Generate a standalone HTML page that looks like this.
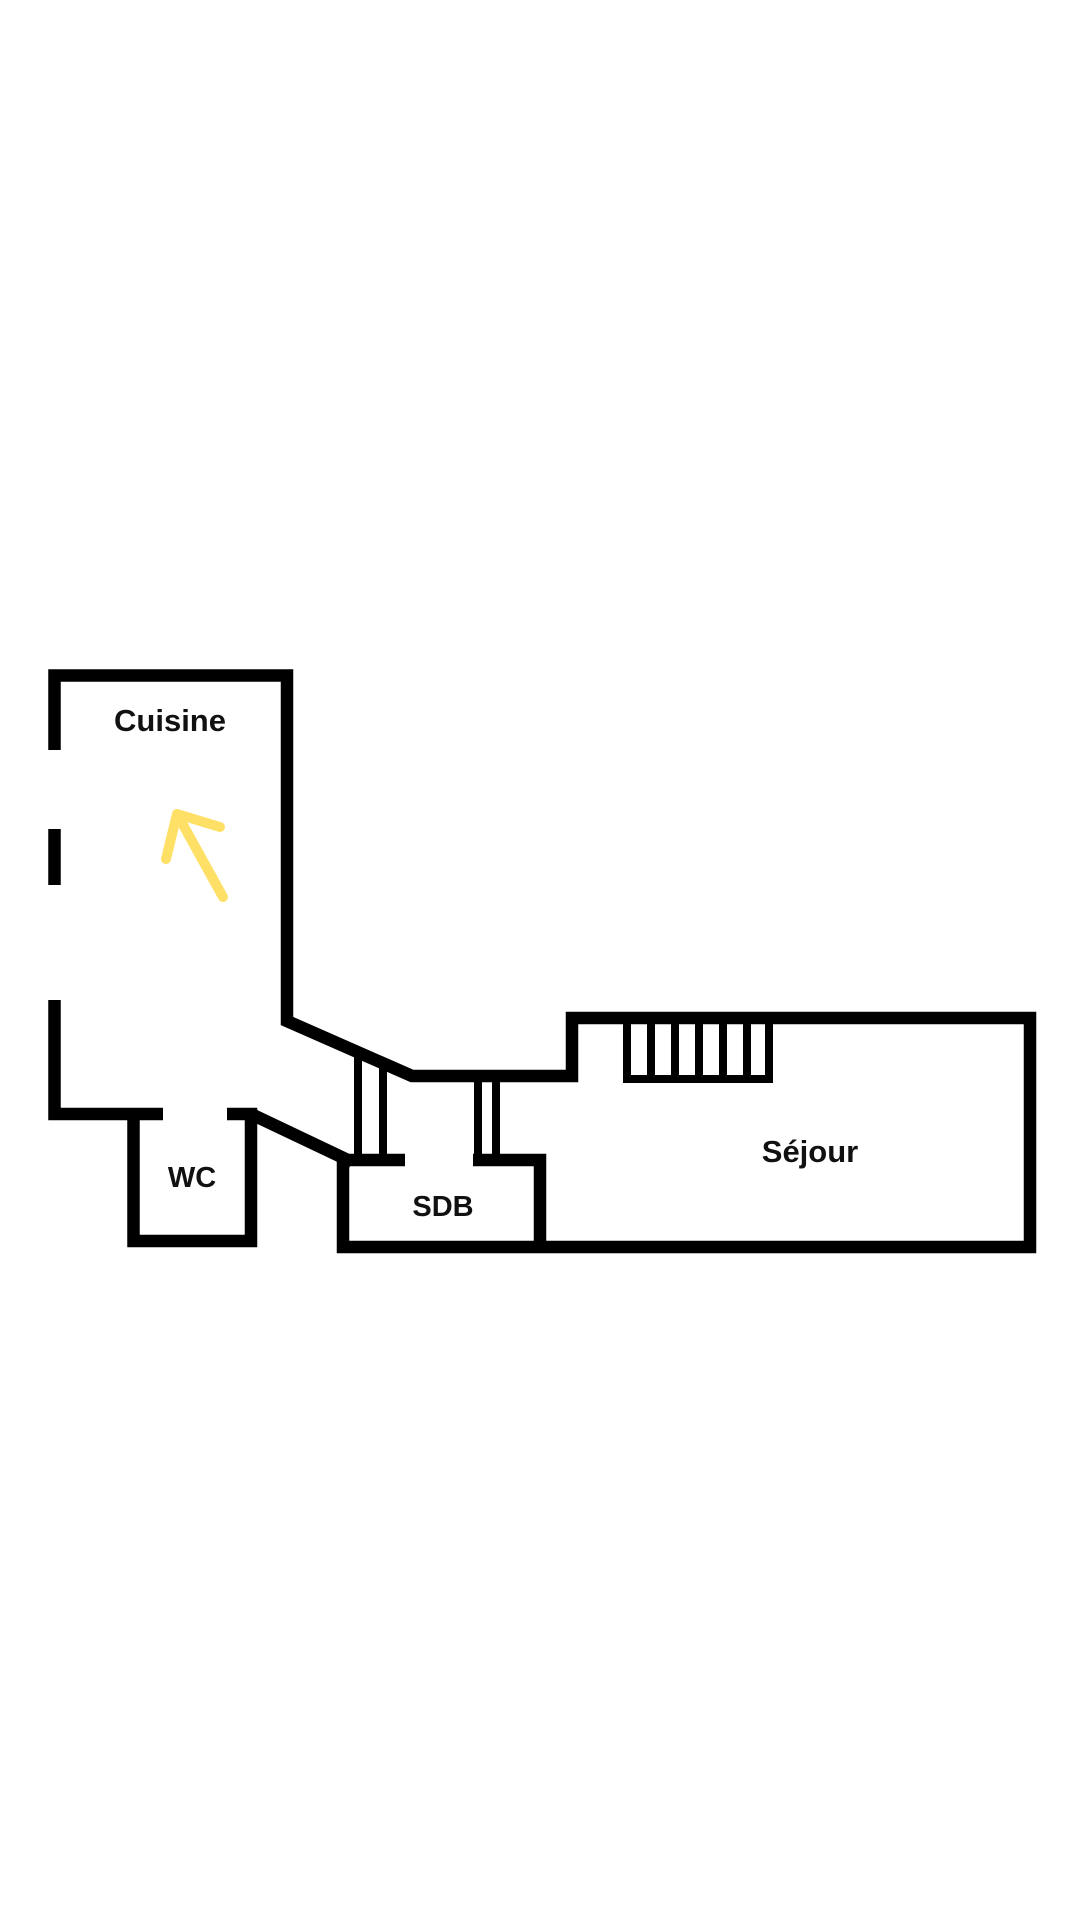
<!DOCTYPE html>
<html><head><meta charset="utf-8"><style>
html,body{margin:0;padding:0;background:#fff;}
svg{display:block;}
text{font-family:"Liberation Sans",sans-serif;font-weight:bold;fill:#111;text-anchor:middle;}
</style></head><body>
<svg width="1080" height="1920" viewBox="0 0 1080 1920" xmlns="http://www.w3.org/2000/svg">
<g fill="none" stroke="#000" stroke-width="12.5" stroke-linejoin="miter" stroke-linecap="butt">
<polyline points="54.5,750 54.5,675.5 287,675.5 287,1021 412,1076 572,1076 572,1018 1030,1018 1030,1247 343,1247 343,1160 405,1160"/>
<line x1="54.5" y1="829" x2="54.5" y2="885"/>
<polyline points="54.5,1000 54.5,1114 163,1114"/>
<polyline points="133.5,1114 133.5,1241 251,1241 251,1114 227,1114"/>
<line x1="251" y1="1114" x2="352" y2="1162"/>
<polyline points="473,1160 540,1160 540,1247"/>
</g>
<g stroke="#000" stroke-width="8" fill="none">
<line x1="358" y1="1054" x2="358" y2="1160"/>
<line x1="383" y1="1065" x2="383" y2="1160"/>
<line x1="478" y1="1076" x2="478" y2="1160"/>
<line x1="496" y1="1076" x2="496" y2="1160"/>
<line x1="627" y1="1018" x2="627" y2="1082"/>
<line x1="651" y1="1018" x2="651" y2="1082"/>
<line x1="675" y1="1018" x2="675" y2="1082"/>
<line x1="699" y1="1018" x2="699" y2="1082"/>
<line x1="723" y1="1018" x2="723" y2="1082"/>
<line x1="747" y1="1018" x2="747" y2="1082"/>
<line x1="769" y1="1018" x2="769" y2="1082"/>
<line x1="623" y1="1079" x2="773" y2="1079"/>
</g>
<g stroke="#FFE066" stroke-width="10" stroke-linecap="round" stroke-linejoin="round" fill="none">
<line x1="223" y1="897" x2="177" y2="814"/>
<polyline points="166,859 177,814 220,827"/>
</g>
<text x="170" y="731" font-size="31">Cuisine</text>
<text x="810" y="1162" font-size="31">Séjour</text>
<text x="192" y="1187" font-size="29">WC</text>
<text x="443" y="1216" font-size="29">SDB</text>
</svg>
</body></html>
